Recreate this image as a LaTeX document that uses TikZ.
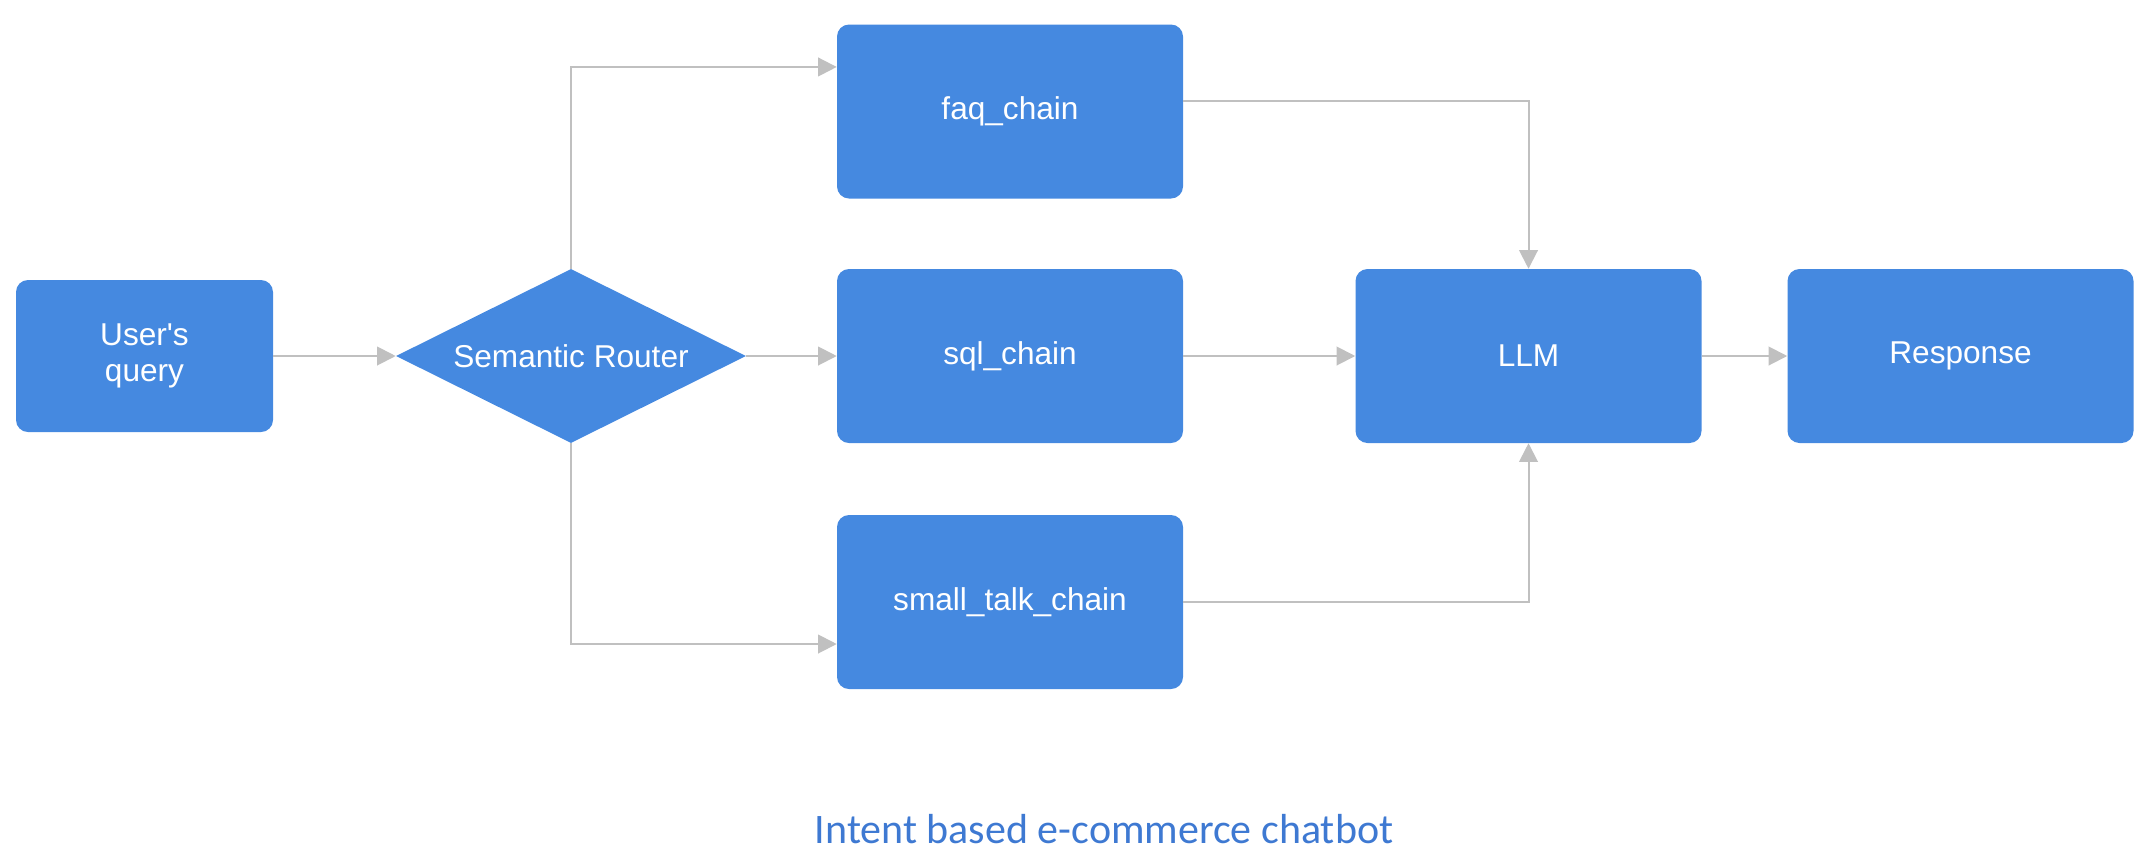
\documentclass[tikz,border=0pt]{standalone}
\usepackage{fontspec}
\setmainfont{Liberation Sans}
\newfontfamily\titlefont{Carlito}
\usetikzlibrary{shapes.geometric,arrows.meta}
\definecolor{boxblue}{RGB}{69,137,224}
\definecolor{titleblue}{RGB}{62,121,210}
\definecolor{conngray}{RGB}{192,192,192}
\begin{document}
\begin{tikzpicture}[x=0.75pt,y=-0.75pt,
  blockbox/.style={draw=none,fill=boxblue,rounded corners=9pt,text=white,
    font=\fontsize{23.7}{27}\selectfont,align=center,
    minimum width=259.5pt,minimum height=130.5pt,inner sep=0pt},
  routershape/.style={diamond,draw=none,fill=boxblue,inner sep=0pt,
    minimum width=262.5pt,minimum height=130.5pt},
  conn/.style={draw=conngray,line width=1.5pt,
    -{Triangle[length=14pt,width=14pt]}}]
\useasboundingbox (0,0) rectangle (2142,858);
\node[blockbox,minimum width=192.75pt,minimum height=114pt] (uq) at (144.5,356) {User\textquotesingle s\\query};
\node[routershape,label={[text=white,font=\fontsize{23.7}{27}\selectfont]center:Semantic Router}] (sr) at (571,356) {};
\node[blockbox] (faq) at (1010,111.5) {faq\_chain};
\node[blockbox] (sql) at (1010,356) {sql\_chain};
\node[blockbox] (stc) at (1010,602) {small\_talk\_chain};
\node[blockbox] (llm) at (1528.5,356) {LLM};
\node[blockbox] (resp) at (1960.5,356) {Response};
\node[font=\titlefont\fontsize{31.5}{36}\selectfont,text=titleblue] (title) at (1104,829) {Intent based e-commerce chatbot};
\draw[conn] (uq.east) -- (sr.west);
\draw[conn] (sr.north) |- ([yshift=33.4pt]faq.west);
\draw[conn] (sr.east) -- (sql.west);
\draw[conn] (sr.south) |- ([yshift=-31.5pt]stc.west);
\draw[conn] ([yshift=7.9pt]faq.east) -| (llm.north);
\draw[conn] (sql.east) -- (llm.west);
\draw[conn] (stc.east) -| (llm.south);
\draw[conn] (llm.east) -- (resp.west);
\end{tikzpicture}
\end{document}
